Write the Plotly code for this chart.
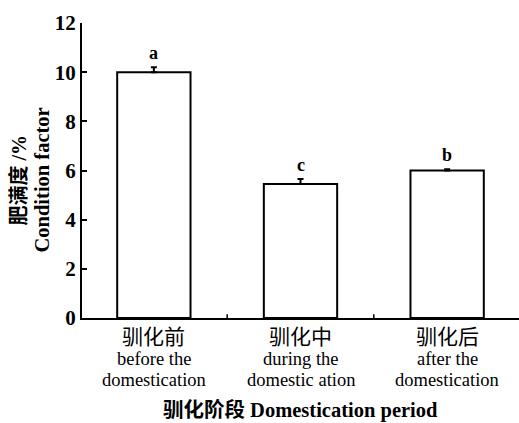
import plotly.graph_objects as go

cat_cn = ["驯化前", "驯化中", "驯化后"]
cat_en1 = ["before the", "during the", "after the"]
cat_en2 = ["domestication", "domestic ation", "domestication"]
values = [10.0, 5.45, 6.0]
errors = [0.2, 0.2, 0.05]
letters = ["a", "c", "b"]
yticks = [0, 2, 4, 6, 8, 10, 12]
ytitle_cn = "肥满度 /%"
ytitle_en = "Condition factor"
xtitle = "驯化阶段 Domestication period"

FONT = "'Liberation Serif', 'Times New Roman', 'DejaVu Serif', 'Noto Sans CJK SC', serif"

fig = go.Figure()
fig.add_trace(go.Bar(
    x=[0, 1, 2], y=values,
    marker=dict(color="white", line=dict(color="black", width=2)),
    width=0.5,
    error_y=dict(type="data", array=errors, arrayminus=[0, 0, 0], visible=True,
                 color="black", thickness=2, width=3),
))

for i, (v, e, t) in enumerate(zip(values, errors, letters)):
    fig.add_annotation(x=i, y=v + e, text="<b>" + t + "</b>", showarrow=False,
                       yanchor="bottom", yshift=2, font=dict(family=FONT, size=18, color="black"))

# category labels (three lines each)
for i in range(3):
    fig.add_annotation(x=i, y=0, xref="x", yref="paper", text=cat_cn[i], showarrow=False,
                       yanchor="middle", yshift=-19, font=dict(family=FONT, size=21, color="black"))
    fig.add_annotation(x=i, y=0, xref="x", yref="paper", text=cat_en1[i], showarrow=False,
                       yanchor="middle", yshift=-41, font=dict(family=FONT, size=18.5, color="black"))
    fig.add_annotation(x=i, y=0, xref="x", yref="paper", text=cat_en2[i], showarrow=False,
                       yanchor="middle", yshift=-62, font=dict(family=FONT, size=18.5, color="black"))

fig.add_annotation(x=0.5, y=0, xref="paper", yref="paper",
                   text="<b>" + xtitle + "</b>", showarrow=False,
                   yanchor="middle", yshift=-92, font=dict(family=FONT, size=20.5, color="black"))

# y-axis title (two rotated lines)
fig.add_annotation(x=0, y=0.5, xref="paper", yref="paper", text="<b>" + ytitle_cn + "</b>",
                   showarrow=False, textangle=-90, xanchor="center", yanchor="middle",
                   xshift=-64, yshift=-10, font=dict(family=FONT, size=20, color="black"))
fig.add_annotation(x=0, y=0.5, xref="paper", yref="paper", text="<b>" + ytitle_en + "</b>",
                   showarrow=False, textangle=-90, xanchor="center", yanchor="middle",
                   xshift=-41, yshift=-10, font=dict(family=FONT, size=20.5, color="black"))

fig.update_layout(
    width=519, height=423,
    margin=dict(l=82, r=0, t=23, b=105),
    plot_bgcolor="white", paper_bgcolor="white",
    showlegend=False,
    font=dict(family=FONT, color="black"),
    xaxis=dict(
        range=[-0.49, 2.49],
        tickmode="array", tickvals=[0, 1, 2], ticktext=["", "", ""],
        ticks="", showline=True, linecolor="black", linewidth=2,
        showgrid=False, zeroline=False, automargin=False,
    ),
    yaxis=dict(
        range=[0, 12], tickmode="array", tickvals=yticks,
        ticktext=["<b>%d</b>" % v for v in yticks],
        ticks="inside", ticklen=5, tickwidth=2, tickcolor="black",
        showline=True, linecolor="black", linewidth=2,
        showgrid=False, zeroline=False, automargin=False,
        tickfont=dict(family=FONT, size=21, color="black"),
    ),
)

# inner ticks between categories on the x axis
for xb in [0.5, 1.5]:
    fig.add_shape(type="line", xref="x", yref="y", x0=xb, x1=xb, y0=0, y1=0.15,
                  line=dict(color="black", width=1.5))

fig.write_html("out.html", config={"displayModeBar": False})

# remove the browser's default page margin so the figure sits at the window's corner
with open("out.html", encoding="utf-8") as f:
    html = f.read()
html = html.replace("<body>", '<body style="margin:0">', 1)
with open("out.html", "w", encoding="utf-8") as f:
    f.write(html)
